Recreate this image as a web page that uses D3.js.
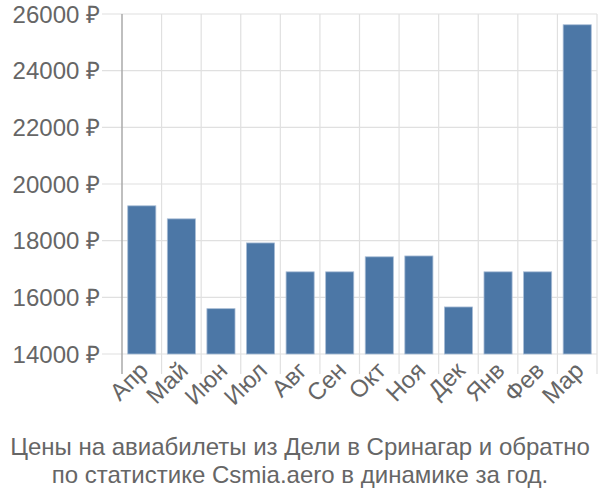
<!DOCTYPE html>
<html>
<head>
<meta charset="utf-8">
<script src="https://cdn.jsdelivr.net/npm/d3@7"></script>
<style>
  body { margin: 0; background: #fff; }
  text { font-family: "Liberation Sans", Arial, sans-serif; fill: #666; }
</style>
</head>
<body>
<svg id="chart" width="600" height="500"></svg>
<script>
// data
var months = ["Апр", "Май", "Июн", "Июл", "Авг", "Сен", "Окт", "Ноя", "Дек", "Янв", "Фев", "Мар"];
var prices = [19230, 18770, 15600, 17920, 16900, 16900, 17430, 17460, 15660, 16900, 16900, 25620];
var yTicks = [14000, 16000, 18000, 20000, 22000, 24000, 26000];
var titleLines = ["Цены на авиабилеты из Дели в Сринагар и обратно", "по статистике Csmia.aero в динамике за год."];

var svg = d3.select("#chart");
var plotLeft = 122, plotRight = 597, plotTop = 14, plotBottom = 354;

var x = d3.scaleBand().domain(months).range([plotLeft, plotRight]).paddingInner(0.29).paddingOuter(0.145);
var xGrid = d3.scaleBand().domain(months).range([plotLeft, plotRight]);
var y = d3.scaleLinear().domain([14000, 26000]).range([plotBottom, plotTop]);

// horizontal grid
svg.append("g").selectAll("line").data(yTicks).enter().append("line")
  .attr("x1", plotLeft - 20).attr("x2", plotRight)
  .attr("y1", function(d) { return y(d); }).attr("y2", function(d) { return y(d); })
  .attr("stroke", "#e0e0e0").attr("stroke-width", 1.2);

// vertical grid
var vx = months.map(function(m) { return xGrid(m); }).concat([plotRight]);
svg.append("g").selectAll("line").data(vx.slice(1)).enter().append("line")
  .attr("x1", function(d) { return d; }).attr("x2", function(d) { return d; })
  .attr("y1", plotTop).attr("y2", plotBottom + 20)
  .attr("stroke", "#e0e0e0").attr("stroke-width", 1.2);

// left axis line
svg.append("line").attr("x1", plotLeft).attr("x2", plotLeft).attr("y1", plotTop).attr("y2", plotBottom + 20)
  .attr("stroke", "#aaa").attr("stroke-width", 1.5);

// bars
svg.append("g").selectAll("rect").data(prices).enter().append("rect")
  .attr("x", function(d, i) { return x(months[i]); })
  .attr("width", x.bandwidth())
  .attr("y", function(d) { return y(d); })
  .attr("height", function(d) { return plotBottom - y(d); })
  .attr("fill", "#4c77a6")
  .attr("stroke", "#a9bdd6").attr("stroke-width", 0.8);

// y labels
svg.append("g").selectAll("text").data(yTicks).enter().append("text")
  .attr("x", plotLeft - 22).attr("y", function(d) { return y(d); })
  .attr("dy", "0.36em").attr("text-anchor", "end")
  .attr("font-size", 24)
  .text(function(d) { return d + " ₽"; });

// x labels
svg.append("g").selectAll("text").data(months).enter().append("text")
  .attr("text-anchor", "end").attr("font-size", 24)
  .attr("transform", function(d) {
    return "translate(" + (xGrid(d) + xGrid.bandwidth() / 2 + 8) + "," + (plotBottom + 18) + ") rotate(-45)";
  })
  .text(function(d) { return d; });

// title
svg.append("g").selectAll("text").data(titleLines).enter().append("text")
  .attr("x", 300).attr("y", function(d, i) { return 455 + i * 28; })
  .attr("text-anchor", "middle").attr("font-size", 24)
  .text(function(d) { return d; });
</script>
</body>
</html>
